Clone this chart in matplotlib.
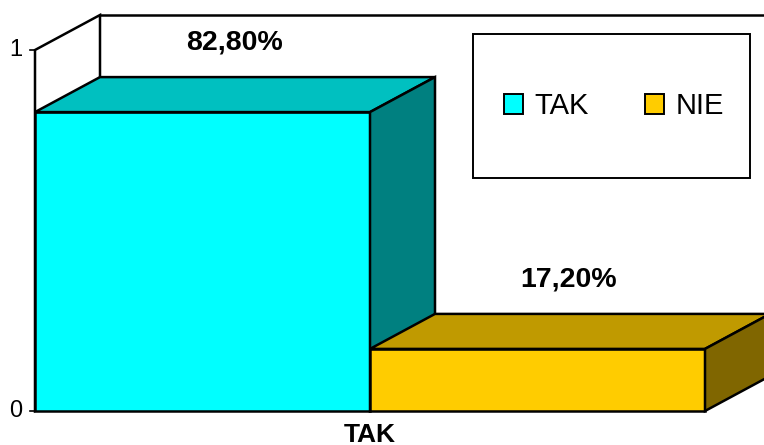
import matplotlib

matplotlib.use("Agg")
import matplotlib.pyplot as plt
from matplotlib.patches import Polygon, Patch, Rectangle

plt.rcParams["font.family"] = ["Liberation Sans", "DejaVu Sans"]

# dane
categories = ["TAK", "NIE"]
values = [0.828, 0.172]
value_labels = ["82,80%", "17,20%"]
x_label = "TAK"
y_ticks = [0, 1]

front_colors = ["#00FFFF", "#FFCC00"]
top_colors = ["#00C0C0", "#C09A00"]
side_colors = ["#008080", "#806600"]

# przesuniecie glebi (w jednostkach danych)
DX = 65 / 335
DY = 35 / 361


def poly(ax, pts, color, z):
    ax.add_patch(Polygon(pts, closed=True, facecolor=color, edgecolor="black",
                         linewidth=1.8, clip_on=False, zorder=z, joinstyle="miter"))


W, H = 764, 445
fig = plt.figure(figsize=(W / 100, H / 100), dpi=100)
ax = fig.add_axes([35 / W, (H - 411) / H, 670 / W, 361 / H])
ax.set_xlim(0, len(values))
ax.set_ylim(0, 1)
ax.axis("off")

# sciana tylna i boczna
poly(ax, [(0, 0), (0, 1), (DX, 1 + DY), (DX, DY)], "white", 1)
ax.plot([DX, 3.0], [1 + DY, 1 + DY], color="black", lw=1.8, clip_on=False, zorder=1)

# slupki 3D
for i, v in enumerate(values):
    x0, x1 = i, i + 1
    z = 2 + i * 3
    poly(ax, [(x0, 0), (x1, 0), (x1, v), (x0, v)], front_colors[i], z)
    poly(ax, [(x0, v), (x1, v), (x1 + DX, v + DY), (x0 + DX, v + DY)], top_colors[i], z + 1)
    poly(ax, [(x1, 0), (x1 + DX, DY), (x1 + DX, v + DY), (x1, v)], side_colors[i], z + 1)
    ax.annotate(value_labels[i], xy=(i + 0.5 + DX / 2, v + DY), xytext=(-0.7, 25),
                textcoords="offset points", ha="center", va="center",
                fontsize=20.5, fontweight="bold", zorder=20, annotation_clip=False)

# os Y
for t in y_ticks:
    ax.plot([-5 / 335, 0], [t, t], color="black", lw=1.2, clip_on=False, zorder=1)
    ax.annotate(str(t), xy=(0, t), xytext=(-9, 0), textcoords="offset points",
                ha="right", va="center", fontsize=17, annotation_clip=False)

ax.annotate(x_label, xy=(1, 0), xytext=(0, -17), textcoords="offset points",
            ha="center", va="center", fontsize=19, fontweight="bold",
            annotation_clip=False)

# legenda
fig.patches.append(Rectangle((473 / W, 1 - 178 / H), 277 / W, 144 / H,
                             transform=fig.transFigure, facecolor="white",
                             edgecolor="black", linewidth=1.4, zorder=30))
handles = [Patch(facecolor=c, edgecolor="black", linewidth=1.4) for c in front_colors]
leg = fig.legend(handles, categories, loc="center", ncol=2, frameon=False,
                 bbox_to_anchor=(614 / W, 1 - 106 / H), fontsize=21,
                 handlelength=0.65, handleheight=0.7, handletextpad=0.4,
                 columnspacing=1.9)
leg.set_zorder(31)

fig.savefig("out.png", dpi=100)
